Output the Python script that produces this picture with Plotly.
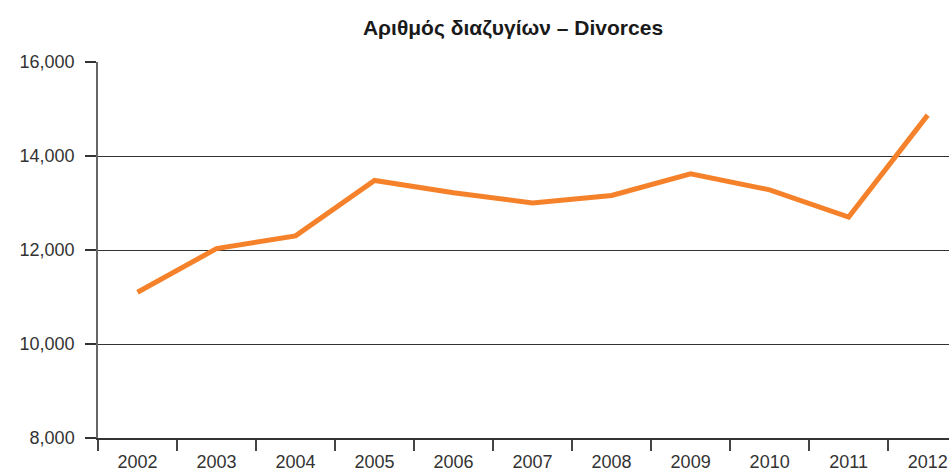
import plotly.graph_objects as go

years = ["2002", "2003", "2004", "2005", "2006", "2007", "2008", "2009", "2010", "2011", "2012"]
divorces = [11100, 12030, 12300, 13480, 13220, 13000, 13160, 13620, 13280, 12700, 14870]
title_text = "Αριθμός διαζυγίων – Divorces"

fig = go.Figure()
fig.add_trace(go.Scatter(
    x=years, y=divorces, mode="lines",
    line=dict(color="#F5822A", width=5),
    showlegend=False, hoverinfo="x+y",
))

font_family = "Liberation Sans, Arial, Helvetica, sans-serif"

W, H = 949, 472
fig.update_layout(
    width=W, height=H,
    margin=dict(l=98, r=0, t=62, b=32),
    paper_bgcolor="white", plot_bgcolor="white",
    font=dict(family=font_family, size=18, color="#333333"),
    title=dict(text="<b>" + title_text + "</b>", x=513 / W, xanchor="center",
               y=1 - 28 / H, yanchor="middle",
               font=dict(family=font_family, size=21, color="#1a1a1a")),
)
fig.update_xaxes(
    type="category", range=[-0.5, 10.27],
    tickson="boundaries", ticks="outside", ticklen=11, tickwidth=1.5, tickcolor="#444444",
    ticklabelstandoff=7,
    showgrid=False, showline=True, linecolor="#333333", linewidth=1.5,
    tickfont=dict(size=18, color="#333333"),
)
fig.update_yaxes(
    range=[8000, 16000], dtick=2000, tickformat=",",
    ticks="outside", ticklen=11, tickwidth=1.5, tickcolor="#333333",
    ticklabelstandoff=7,
    showgrid=True, gridcolor="#333333", gridwidth=1.3,
    showline=True, linecolor="#666666", linewidth=1.5,
    zeroline=False, tickfont=dict(size=18, color="#333333"),
)

fig.write_html(
    "out.html",
    config={"displayModeBar": False},
    post_script="document.body.style.margin='0';"
                "document.documentElement.style.overflow='hidden';"
                "document.body.style.overflow='hidden';",
)
